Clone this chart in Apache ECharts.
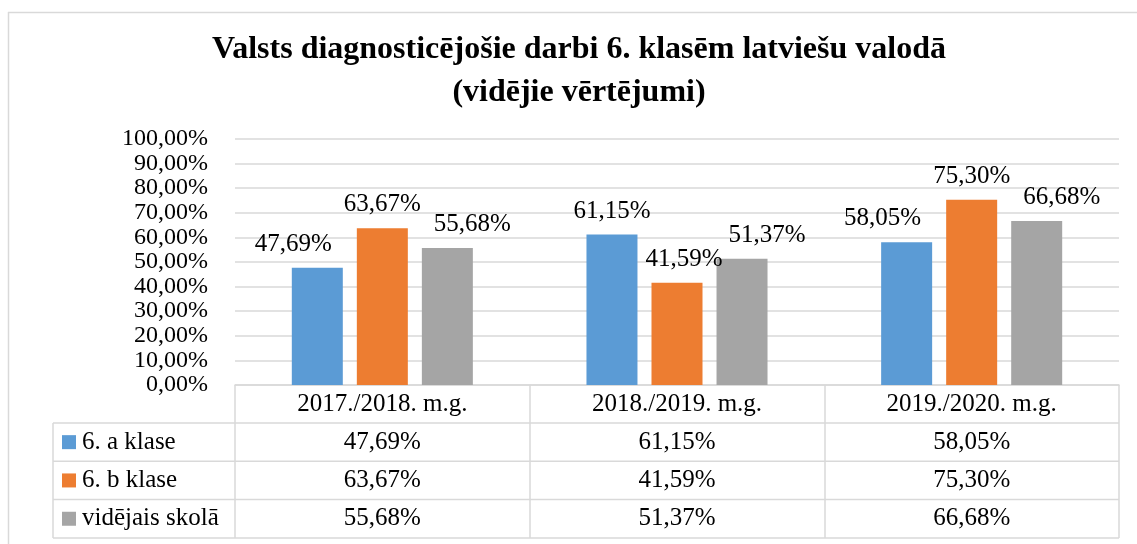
<!DOCTYPE html>
<html>
<head>
<meta charset="utf-8">
<script src="https://cdn.jsdelivr.net/npm/echarts@6/dist/echarts.min.js"></script>
<style>
  html, body { margin: 0; padding: 0; background: #fff; }
  #main { width: 1137px; height: 544px; }
</style>
</head>
<body>
<div id="main"></div>
<script>
// dati
const titleText = 'Valsts diagnosticējošie darbi 6. klasēm latviešu valodā\n(vidējie vērtējumi)';
const categories = ['2017./2018. m.g.', '2018./2019. m.g.', '2019./2020. m.g.'];
const seriesNames = ['6. a klase', '6. b klase', 'vidējais skolā'];
const klaseA = [47.69, 61.15, 58.05];
const klaseB = [63.67, 41.59, 75.30];
const videjais = [55.68, 51.37, 66.68];
const seriesValues = [klaseA, klaseB, videjais];

const colors = ['#5B9BD5', '#ED7D31', '#A5A5A5'];
const serif = 'Liberation Serif';
const lineColor = '#D9D9D9';
const fs = 25;

// datu tabulas izmēri
const tableLeft = 53;
const headerH = 38;
const rowH = 38.3;

const fmt = v => v.toFixed(2).replace('.', ',') + '%';

// Excel pārbīda dažas etiķetes, lai tās nepārklātos
const labelShift = [
    [-24, 0, -24],
    [0, 7, 0],
    [25, 25, 25]
];

const chart = echarts.init(document.getElementById('main'));

const option = {
    animation: false,
    color: colors,
    textStyle: { fontFamily: serif },
    grid: {
        left: 235,
        right: 18,
        top: 139,
        bottom: 159
    },
    xAxis: {
        type: 'category',
        data: categories,
        axisLine: { show: true, lineStyle: { color: lineColor, width: 1.5 } },
        axisTick: {
            show: true,
            inside: false,
            length: headerH + rowH * 3,
            lineStyle: { color: lineColor, width: 1.5 }
        },
        axisLabel: {
            margin: 19.5,
            verticalAlign: 'middle',
            fontFamily: serif,
            fontSize: fs,
            color: '#000'
        }
    },
    yAxis: {
        type: 'value',
        min: 0,
        max: 100,
        interval: 10,
        axisLine: { show: false },
        axisTick: { show: false },
        axisLabel: {
            margin: 27,
            showMinLabel: true,
            showMaxLabel: true,
            formatter: v => fmt(v),
            fontFamily: serif,
            fontSize: 24,
            color: '#000'
        },
        splitLine: { lineStyle: { color: lineColor, width: 1.5 } }
    },
    series: seriesNames.map((name, i) => ({
        name: name,
        type: 'bar',
        barWidth: 51,
        barGap: '27.5%',
        data: seriesValues[i].map((v, j) => ({
            value: v,
            label: { offset: [labelShift[i][j], 0] }
        })),
        label: {
            show: true,
            position: 'top',
            distance: 11,
            formatter: p => fmt(p.value),
            fontFamily: serif,
            fontSize: fs,
            color: '#000'
        }
    }))
};

chart.setOption(option);

// virsraksts, leģenda un datu tabula zem diagrammas
function drawTable() {
    const centers = categories.map(c => chart.convertToPixel({ xAxisIndex: 0 }, c));
    const band = centers[1] - centers[0];
    const right = centers[centers.length - 1] + band / 2;
    const base = chart.convertToPixel({ yAxisIndex: 0 }, 0);
    const graphic = [];

    // ārējais rāmis
    graphic.push({ type: 'line', shape: { x1: 8, y1: 12.5, x2: 1137, y2: 12.5 }, style: { stroke: lineColor, lineWidth: 1.5 }, silent: true });
    graphic.push({ type: 'line', shape: { x1: 8.5, y1: 12, x2: 8.5, y2: 544 }, style: { stroke: lineColor, lineWidth: 1.5 }, silent: true });

    // virsraksts
    graphic.push({
        type: 'text',
        x: 579,
        y: 28,
        silent: true,
        style: {
            text: titleText,
            font: 'bold 32px ' + serif,
            lineHeight: 43,
            fill: '#000',
            align: 'center',
            verticalAlign: 'top'
        }
    });

    for (let k = 0; k <= 3; k++) {
        const y = base + headerH + k * rowH;
        graphic.push({ type: 'line', shape: { x1: tableLeft, y1: y, x2: right, y2: y }, style: { stroke: lineColor, lineWidth: 1.5 }, silent: true });
    }
    graphic.push({
        type: 'line',
        shape: { x1: tableLeft, y1: base + headerH, x2: tableLeft, y2: base + headerH + 3 * rowH },
        style: { stroke: lineColor, lineWidth: 1.5 }, silent: true
    });

    seriesNames.forEach((name, i) => {
        const yc = base + headerH + (i + 0.5) * rowH;
        // leģendas kvadrātiņš un nosaukums
        graphic.push({
            type: 'rect',
            shape: { x: tableLeft + 9, y: yc - 7, width: 14, height: 14 },
            style: { fill: colors[i] },
            silent: true
        });
        graphic.push({
            type: 'text',
            x: tableLeft + 29,
            y: yc,
            silent: true,
            style: {
                text: name,
                font: fs + 'px ' + serif,
                fill: '#000',
                align: 'left',
                verticalAlign: 'middle'
            }
        });
        seriesValues[i].forEach((v, j) => {
            graphic.push({
                type: 'text',
                x: centers[j],
                y: yc,
                silent: true,
                style: {
                    text: fmt(v),
                    font: fs + 'px ' + serif,
                    fill: '#000',
                    align: 'center',
                    verticalAlign: 'middle'
                }
            });
        });
    });

    chart.setOption({ graphic: graphic });
}

drawTable();
</script>
</body>
</html>
